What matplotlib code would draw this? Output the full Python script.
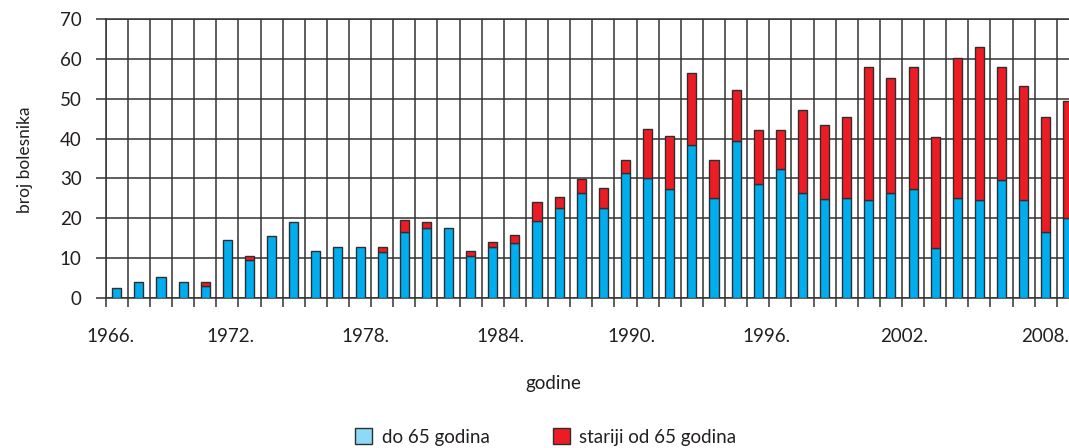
import matplotlib
matplotlib.use("Agg")
import matplotlib.pyplot as plt
from matplotlib.patches import Patch
import numpy as np

plt.rcParams["font.family"] = ["Lato", "DejaVu Sans"]

years = list(range(1966, 2010))
# do 65 godina (blue, bottom)
mladji = [2.4, 4.0, 5.1, 3.9, 2.9, 14.5, 9.4, 15.6, 19.0, 11.8,
          12.7, 12.7, 11.5, 16.4, 17.5, 17.6, 10.6, 12.7, 13.8, 19.4,
          22.5, 26.4, 22.5, 31.4, 30.0, 27.3, 38.3, 25.1, 39.5, 28.5,
          32.3, 26.4, 24.7, 25.1, 24.6, 26.4, 27.3, 12.6, 25.0, 24.5,
          29.6, 24.5, 16.5, 20.1]
# stariji od 65 godina (red, stacked on top)
stariji = [0, 0, 0, 0, 1.1, 0, 1.2, 0, 0, 0,
           0, 0, 1.2, 3.1, 1.5, 0, 1.1, 1.3, 1.9, 4.6,
           2.8, 3.5, 5.0, 3.1, 12.3, 13.4, 18.2, 9.5, 12.7, 13.7,
           9.9, 20.7, 18.6, 20.4, 33.4, 28.9, 30.7, 27.9, 35.3, 38.5,
           28.4, 28.7, 29.0, 29.3]
label_years = [1966, 1972, 1978, 1984, 1990, 1996, 2002, 2008]
# the year labels in the source sit a bit left of their bars, unevenly
label_shift = [-0.3, -0.85, -0.75, -0.65, -0.75, -0.65, -0.4, -0.05]

BLUE = "#00aeef"
RED = "#ed1c24"
EDGE = "#2e2e2e"
GRID = "#333333"
TXT = "#231f20"

x = np.arange(len(years))
mladji = np.array(mladji)
stariji = np.array(stariji)

fig = plt.figure(figsize=(10.69, 4.48), dpi=100)
ax = fig.add_axes([105.7 / 1069, 1 - 297.7 / 448, 1 - 105.7 / 1069, (297.7 - 19.3) / 448])

ax.bar(x, mladji, width=0.41, color=BLUE, edgecolor=EDGE, linewidth=1.0, zorder=3)
m = stariji > 0
ax.bar(x[m], stariji[m], bottom=mladji[m], width=0.41, color=RED,
       edgecolor=EDGE, linewidth=1.0, zorder=3)

# gridlines at every year boundary, ticks sticking out below the axis
ax.set_xticks(np.arange(-0.5, len(years), 1), minor=True)
ax.set_xticks([years.index(y) + s for y, s in zip(label_years, label_shift)])
ax.set_xticklabels([f"{y}." for y in label_years])
ax.set_yticks(range(0, 71, 10))
# set limits after the ticks (set_xticks widens the view); last bar is cut off
ax.set_xlim(-0.5, 43.05)
ax.set_ylim(0, 70)

ax.grid(which="minor", axis="x", color=GRID, lw=1.1, zorder=0)
ax.grid(which="major", axis="y", color=GRID, lw=1.1, zorder=0)
ax.tick_params(axis="x", which="major", length=0, pad=22, labelsize=13.5, labelcolor=TXT)
ax.tick_params(axis="x", which="minor", length=6.5, width=1.1, color=GRID, direction="out")
ax.tick_params(axis="y", length=7.2, width=1.1, color=GRID, direction="out", pad=10,
               labelsize=13.5, labelcolor=TXT)
for s in ["top", "bottom", "left"]:
    ax.spines[s].set_color(GRID)
    ax.spines[s].set_linewidth(1.1)
ax.spines["right"].set_visible(False)

fig.text(553 / 1069, 1 - 384 / 448, "godine", ha="center", va="center",
         fontsize=13.5, color=TXT)
fig.text(25 / 1069, 1 - 160 / 448, "broj bolesnika", ha="center", va="center",
         rotation=90, fontsize=12.5, color=TXT)

handles = [Patch(facecolor="#8ed8f8", edgecolor=EDGE, lw=1.0, label="do 65 godina"),
           Patch(facecolor=RED, edgecolor=EDGE, lw=1.0, label="stariji od 65 godina")]
leg = fig.legend(handles=handles, loc="center", bbox_to_anchor=(546 / 1069, 1 - 437 / 448),
                 ncol=2, frameon=False, fontsize=13.5, handlelength=0.9, handleheight=0.9,
                 handletextpad=0.5, columnspacing=3.4, borderpad=0)
for t in leg.get_texts():
    t.set_color(TXT)

fig.savefig("out.png", dpi=100)
